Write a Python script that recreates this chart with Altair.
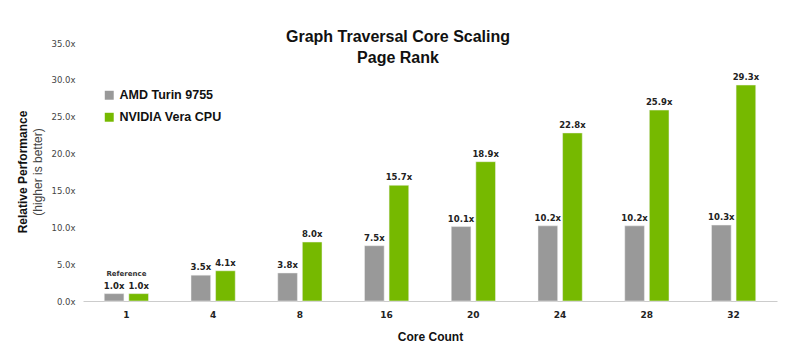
import altair as alt
import pandas as pd

cores = ["1", "4", "8", "16", "20", "24", "28", "32"]
series = ["AMD Turin 9755", "NVIDIA Vera CPU"]
amd = [1.0, 3.5, 3.8, 7.5, 10.1, 10.2, 10.2, 10.3]
nvidia = [1.0, 4.1, 8.0, 15.7, 18.9, 22.8, 25.9, 29.3]
colors = ["#999999", "#76b900"]

rows = []
for c, a, n in zip(cores, amd, nvidia):
    rows.append({"core": c, "series": series[0], "value": a})
    rows.append({"core": c, "series": series[1], "value": n})
df = pd.DataFrame(rows)

ref_df = pd.DataFrame([{"core": "1", "value": 1.0, "label": "Reference"}])
ytitle_df = pd.DataFrame([{"a": 1}])

num_font = "DejaVu Sans"
txt_font = "Liberation Sans"

x = alt.X("core:N", sort=cores, title="Core Count",
          scale=alt.Scale(paddingInner=0.49, paddingOuter=0.245),
          axis=alt.Axis(labelAngle=0, ticks=False, domainColor="#cccccc",
                        labelFont=num_font, labelFontSize=9, labelFontWeight="bold",
                        labelColor="#222222", labelPadding=9,
                        titleFont=txt_font, titleFontSize=12, titleFontWeight="bold",
                        titleColor="#111111", titlePadding=12))
y = alt.Y("value:Q", title=None,
          scale=alt.Scale(domain=[0, 35], nice=False),
          axis=alt.Axis(values=[0, 5, 10, 15, 20, 25, 30, 35], grid=False, ticks=False,
                        domain=False, labelExpr="format(datum.value, '.1f') + 'x'",
                        labelFont=num_font, labelFontSize=8.5, labelColor="#444444",
                        labelPadding=8))
xoff = alt.XOffset("series:N", sort=series,
                   scale=alt.Scale(paddingInner=0.2, paddingOuter=0))

bars = alt.Chart(df).mark_bar(stroke="#f0f0f0", strokeWidth=0.5).encode(
    x=x, y=y, xOffset=xoff,
    color=alt.Color("series:N", sort=series,
                    scale=alt.Scale(domain=series, range=colors),
                    legend=alt.Legend(title=None, orient="none", legendX=20, legendY=46,
                                      symbolType="square", symbolSize=80,
                                      symbolStrokeWidth=0,
                                      labelFont=txt_font, labelFontSize=12.5,
                                      labelFontWeight="bold", labelColor="#111111",
                                      rowPadding=9)),
)

labels = alt.Chart(df).mark_text(baseline="bottom", dy=-3, font=num_font, fontSize=8.5,
                                 fontWeight="bold", color="#222222").encode(
    x=x, y=y, xOffset=xoff,
).transform_calculate(lab="format(datum.value, '.1f') + 'x'").encode(
    text="lab:N")

ref = alt.Chart(ref_df).mark_text(baseline="bottom", dy=-17, font=num_font, fontSize=7,
                                  fontWeight="bold", color="#333333").encode(
    x=x, y=y, text="label:N")

yt1 = alt.Chart(ytitle_df).mark_text(angle=270, font=txt_font, fontSize=12,
                                      fontWeight="bold", color="#111111").encode(
    x=alt.value(-60), y=alt.value(129), text=alt.value("Relative Performance"))
yt2 = alt.Chart(ytitle_df).mark_text(angle=270, font=txt_font, fontSize=12,
                                      color="#444444").encode(
    x=alt.value(-45), y=alt.value(129), text=alt.value("(higher is better)"))

chart = alt.layer(bars, labels, ref, yt1, yt2).properties(
    width=694, height=258,
    view=alt.ViewBackground(strokeWidth=0, stroke="transparent"),
    title=alt.TitleParams(["Graph Traversal Core Scaling", "Page Rank"],
                          font=txt_font, fontSize=16, fontWeight="bold",
                          color="#111111", anchor="middle", dx=-32, offset=-27,
                          lineHeight=21),
    autosize=alt.AutoSizeParams(type="none"),
    padding={"left": 83, "top": 43, "right": 23, "bottom": 60},
).configure_view(strokeWidth=0, stroke="transparent").configure(background="white")

chart.save("out.html", embed_options={"renderer": "svg", "actions": False})
